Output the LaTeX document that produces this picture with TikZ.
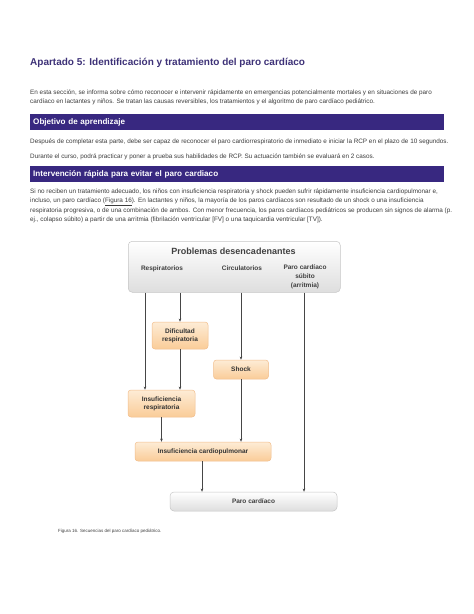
\documentclass[tikz,border=0pt]{standalone}
\usepackage{fontspec}
\setmainfont{Liberation Sans}
\usetikzlibrary{arrows.meta,shadings}
\definecolor{hdr}{RGB}{56,40,128}
\definecolor{ttl}{RGB}{62,50,120}
\definecolor{txt}{RGB}{60,60,60}
\definecolor{orT}{RGB}{253,236,214}
\definecolor{orB}{RGB}{250,204,152}
\definecolor{orD}{RGB}{242,190,140}
\definecolor{arr}{RGB}{70,70,70}
\tikzset{
  body/.style={anchor=base west, inner sep=0pt, font=\fontsize{6.35}{7}\selectfont, text=txt},
  bar/.style={anchor=north west, fill=hdr, minimum width=414pt, minimum height=16pt, inner xsep=3pt, inner ysep=0pt, text width=408pt, align=left, text=white, font=\bfseries\fontsize{8.1}{9}\selectfont},
  gbox/.style={draw=gray!45, line width=0.5pt, rounded corners=4pt, top color=white, bottom color=gray!26},
  obox/.style={draw=orD, line width=0.5pt, rounded corners=3pt, top color=orT, bottom color=orB, align=center, text=black!80, inner sep=0pt, font=\bfseries\fontsize{6.5}{8}\selectfont},
  dlab/.style={inner sep=0pt, align=center, text=black!75, font=\bfseries\fontsize{6.5}{9}\selectfont},
  conn/.style={draw=arr, line width=0.5pt, -{Stealth[length=3.2pt,width=2.6pt]}}
}
\begin{document}
\begin{tikzpicture}[x=1pt,y=-1pt]
\useasboundingbox[fill=white] (0,0) rectangle (474,614);

\node[anchor=base west, inner sep=0pt, text=ttl, font=\bfseries\fontsize{10}{12}\selectfont] (title) at (30,65) {Apartado 5: Identificación y tratamiento del paro cardíaco};

\node[body] (p1) at (30,94) {En esta sección, se informa sobre cómo reconocer e intervenir rápidamente en emergencias potencialmente mortales y en situaciones de paro};
\node[body] (p2) at (30,103) {cardíaco en lactantes y niños. Se tratan las causas reversibles, los tratamientos y el algoritmo de paro cardíaco pediátrico.};

\node[bar] (b1) at (30,114) {Objetivo de aprendizaje};
\node[body] (o1) at (30,143) {Después de completar esta parte, debe ser capaz de reconocer el paro cardiorrespiratorio de inmediato e iniciar la RCP en el plazo de 10 segundos.};
\node[body] (o2) at (30,158) {Durante el curso, podrá practicar y poner a prueba sus habilidades de RCP. Su actuación también se evaluará en 2 casos.};

\node[bar] (b2) at (30,166) {Intervención rápida para evitar el paro cardiaco};
\node[body] (q1) at (30,193) {Si no reciben un tratamiento adecuado, los niños con insuficiencia respiratoria y shock pueden sufrir rápidamente insuficiencia cardiopulmonar e,};
\node[body] (q2) at (30,202.5) {incluso, un paro cardíaco (\underline{Figura 16}). En lactantes y niños, la mayoría de los paros cardíacos son resultado de un shock o una insuficiencia};
\node[body] (q3) at (30,212) {respiratoria progresiva, o de una combinación de ambos. Con menor frecuencia, los paros cardíacos pediátricos se producen sin signos de alarma (p.};
\node[body] (q4) at (30,221.5) {ej., colapso súbito) a partir de una arritmia (fibrilación ventricular [FV] o una taquicardia ventricular [TV]).};

% diagram
\node[gbox, anchor=north west, minimum width=212pt, minimum height=51pt] (top) at (128,241) {};
\node[dlab, font=\bfseries\fontsize{9}{10}\selectfont] (tt) at (233.5,251.5) {Problemas desencadenantes};
\node[dlab, anchor=base] (resp) at (162,270.5) {Respiratorios};
\node[dlab, anchor=base] (circ) at (242,270.5) {Circulatorios};
\node[dlab, anchor=north] (arrit) at (305,264.5) {Paro cardíaco\\súbito\\(arritmia)};

\node[obox, minimum width=56pt, minimum height=27pt] (dif) at (180,335.5) {Dificultad\\respiratoria};
\node[obox, minimum width=55pt, minimum height=19pt] (shock) at (241,369.5) {Shock};
\node[obox, minimum width=67pt, minimum height=27pt] (ires) at (161.5,403.5) {Insuficiencia\\respiratoria};
\node[obox, minimum width=136pt, minimum height=19pt] (cp) at (203,451.5) {Insuficiencia cardiopulmonar};
\node[gbox, dlab, minimum width=167pt, minimum height=19pt] (paro) at (253.5,501.5) {Paro cardíaco};

\coordinate (xa) at (145,0);
\coordinate (xc) at (202,0);
\coordinate (xp) at (304,0);

\draw[conn] (top.south -| xa) -- (ires.north -| xa);
\draw[conn] (top.south -| dif.north) -- (dif.north);
\draw[conn] (dif.south) -- (ires.north -| dif.south);
\draw[conn] (top.south -| shock.north) -- (shock.north);
\draw[conn] (ires.south) -- (cp.north -| ires.south);
\draw[conn] (shock.south) -- (cp.north -| shock.south);
\draw[conn] (cp.south -| xc) -- (paro.north -| xc);
\draw[conn] (top.south -| xp) -- (paro.north -| xp);

\node[body, font=\fontsize{4.5}{5}\selectfont, text=black!75] (cap) at (58,532) {Figura 16. Secuencias del paro cardíaco pediátrico.};
\end{tikzpicture}
\end{document}
